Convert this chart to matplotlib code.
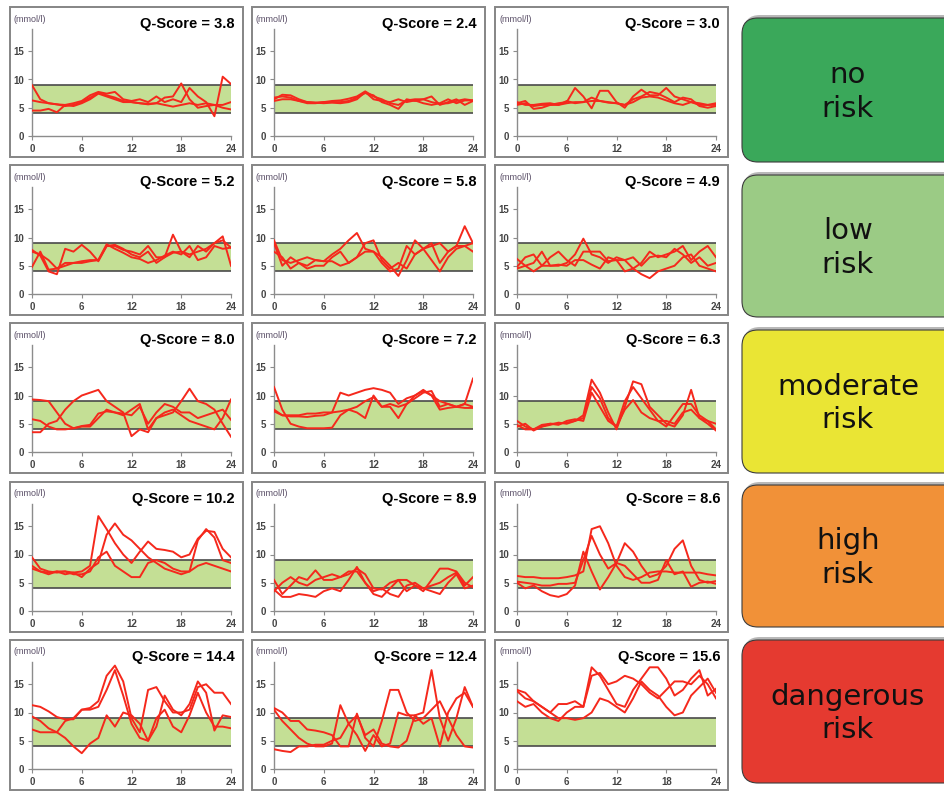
import matplotlib.pyplot as plt
from matplotlib.patches import FancyBboxPatch, Rectangle

W, H = 944, 792

hours = list(range(25))

# glucose traces (mmol/l), hourly 0..24, three days per panel
q38 = [
    [9.0, 6.5, 5.8, 5.6, 5.3, 5.5, 6.0, 6.8, 7.6, 7.2, 6.8, 6.2, 6.0, 5.8, 5.7, 5.8, 6.8, 7.0, 9.3, 6.5, 5.0, 5.3, 5.5, 5.0, 4.7],
    [6.3, 6.0, 5.8, 5.6, 5.5, 5.8, 6.2, 7.2, 7.8, 7.5, 7.8, 6.5, 6.2, 6.5, 6.0, 7.0, 6.0, 6.5, 6.0, 8.5, 7.0, 6.0, 3.5, 10.5, 9.2],
    [4.5, 4.5, 4.8, 4.2, 5.5, 5.3, 5.8, 6.5, 7.5, 7.0, 6.5, 6.0, 6.0, 5.8, 5.6, 5.8, 5.5, 5.2, 5.5, 5.8, 5.5, 5.8, 5.5, 5.5, 6.0],
]
q24 = [
    [6.5, 7.3, 7.2, 6.5, 6.0, 5.9, 6.0, 6.2, 6.3, 6.6, 7.0, 7.9, 7.0, 6.5, 5.8, 5.5, 6.3, 6.5, 6.5, 6.0, 5.7, 5.8, 6.2, 6.5, 6.3],
    [6.8, 7.0, 6.8, 6.2, 5.8, 5.8, 6.0, 6.0, 6.0, 6.2, 6.8, 7.6, 7.2, 6.0, 5.5, 4.8, 6.5, 6.2, 6.5, 7.0, 5.5, 6.0, 6.5, 5.5, 6.2],
    [6.2, 6.5, 6.5, 6.2, 6.0, 5.9, 5.8, 5.9, 5.8, 6.0, 6.5, 7.8, 6.5, 6.2, 6.0, 6.5, 6.0, 6.3, 5.8, 5.5, 5.8, 6.5, 5.8, 6.3, 6.3],
]
q30 = [
    [5.5, 5.8, 5.3, 5.5, 5.5, 5.8, 6.0, 8.5, 7.0, 4.9, 8.0, 8.0, 6.0, 5.0, 7.0, 8.2, 7.2, 7.2, 8.5, 7.0, 6.5, 6.0, 5.5, 5.5, 5.5],
    [5.8, 6.2, 4.8, 5.0, 5.5, 5.5, 6.2, 5.8, 6.0, 6.8, 6.2, 6.0, 5.8, 5.5, 6.5, 7.0, 7.8, 7.5, 6.8, 6.0, 6.8, 6.5, 5.3, 5.0, 5.3],
    [6.0, 5.5, 5.5, 5.7, 5.8, 5.5, 5.8, 6.0, 6.0, 6.2, 6.2, 5.9, 5.8, 5.5, 6.0, 6.8, 7.0, 6.8, 6.3, 5.8, 5.5, 6.0, 5.8, 5.5, 5.8],
]
q52 = [
    [7.8, 6.8, 4.0, 3.5, 8.0, 7.5, 8.7, 7.5, 5.8, 8.5, 8.7, 8.0, 7.0, 6.5, 7.5, 5.5, 6.5, 7.3, 7.5, 7.0, 7.5, 8.0, 9.0, 9.5, 8.2],
    [4.8, 7.5, 4.3, 4.5, 5.0, 5.5, 5.8, 6.0, 6.0, 8.5, 8.5, 7.8, 7.5, 7.0, 8.5, 6.5, 6.5, 10.5, 7.5, 6.5, 8.5, 7.5, 9.0, 10.2, 5.0],
    [7.5, 7.0, 6.0, 4.5, 5.5, 5.5, 5.5, 5.8, 6.0, 8.8, 8.0, 7.3, 6.5, 6.2, 5.5, 6.0, 6.8, 7.5, 7.0, 8.5, 6.0, 6.5, 8.5, 8.0, 8.2],
]
q58 = [
    [9.5, 6.0, 5.5, 6.0, 6.5, 6.0, 5.8, 7.0, 8.0, 9.5, 10.8, 8.0, 7.5, 6.5, 5.0, 3.2, 6.0, 9.5, 8.0, 8.5, 9.0, 7.5, 8.5, 12.0, 9.0],
    [7.5, 6.5, 4.5, 5.5, 4.5, 5.0, 5.0, 6.5, 7.5, 5.5, 6.5, 9.0, 9.5, 6.0, 4.5, 5.5, 4.5, 7.0, 8.0, 9.0, 5.5, 7.5, 8.5, 8.5, 9.0],
    [9.0, 5.0, 6.5, 5.5, 5.0, 6.0, 5.8, 5.8, 5.0, 5.5, 6.5, 7.5, 7.5, 5.5, 4.0, 4.5, 8.5, 7.0, 8.0, 6.0, 4.0, 6.5, 8.0, 8.5, 7.5],
]
q49 = [
    [6.2, 5.0, 5.5, 7.5, 5.0, 5.0, 5.5, 7.0, 9.8, 7.0, 6.5, 5.5, 6.5, 6.0, 4.5, 5.5, 7.5, 6.5, 7.0, 7.5, 8.5, 6.0, 7.5, 8.5, 6.5],
    [4.8, 6.5, 7.0, 5.0, 6.5, 7.5, 6.0, 5.0, 7.5, 7.5, 7.5, 5.8, 6.0, 6.0, 6.5, 5.0, 6.5, 6.8, 6.5, 8.0, 7.0, 5.5, 6.5, 5.0, 5.5],
    [4.5, 5.0, 4.0, 5.0, 5.0, 5.2, 5.0, 6.0, 6.0, 5.2, 4.5, 6.5, 6.0, 4.0, 4.5, 3.5, 2.8, 4.0, 4.5, 5.0, 6.5, 7.0, 5.0, 4.5, 4.0],
]
q80 = [
    [9.3, 9.2, 9.0, 7.0, 5.0, 4.2, 4.6, 4.8, 6.8, 7.2, 7.0, 6.5, 7.5, 8.5, 4.0, 6.0, 7.0, 7.5, 6.5, 5.5, 5.0, 4.5, 4.0, 6.0, 9.3],
    [3.5, 3.5, 5.0, 5.5, 7.5, 9.0, 10.0, 10.5, 11.0, 9.0, 8.0, 7.0, 2.8, 4.0, 3.5, 6.0, 6.5, 7.0, 9.0, 11.2, 9.0, 8.5, 7.5, 5.0, 2.7],
    [5.8, 5.5, 4.5, 4.0, 4.0, 4.2, 4.5, 4.5, 6.0, 7.5, 7.0, 6.8, 6.5, 8.0, 5.0, 7.0, 8.5, 8.0, 7.0, 7.0, 6.0, 6.5, 7.0, 7.5, 5.7],
]
q72 = [
    [11.5, 7.5, 5.0, 4.5, 4.2, 4.2, 4.2, 4.3, 6.5, 7.5, 7.0, 6.0, 10.0, 8.0, 8.0, 6.0, 8.5, 9.5, 10.5, 10.8, 8.0, 8.5, 8.0, 8.5, 8.0],
    [7.2, 6.5, 6.3, 6.3, 6.2, 6.4, 6.5, 7.0, 10.5, 10.0, 10.5, 11.0, 11.3, 11.0, 10.5, 8.5, 9.5, 10.0, 10.8, 10.0, 9.0, 8.5, 8.0, 8.5, 13.0],
    [7.5, 6.5, 6.5, 6.5, 6.8, 6.8, 7.0, 7.0, 7.2, 7.5, 8.0, 9.0, 9.7, 8.0, 8.5, 8.0, 8.5, 10.0, 11.0, 10.0, 7.5, 7.8, 8.0, 7.8, 7.8],
]
q63 = [
    [5.5, 4.5, 4.0, 4.5, 5.0, 5.0, 5.2, 5.5, 6.5, 12.8, 10.5, 7.0, 4.0, 8.0, 12.5, 12.0, 8.0, 6.5, 5.0, 4.5, 6.5, 11.0, 6.0, 5.5, 4.0],
    [4.5, 5.0, 3.8, 4.5, 4.8, 5.2, 5.0, 5.5, 6.0, 11.5, 9.5, 6.0, 4.5, 9.0, 11.5, 9.5, 7.5, 5.5, 4.5, 6.5, 8.5, 8.5, 6.5, 5.5, 5.0],
    [4.8, 4.0, 4.0, 4.8, 5.0, 4.8, 5.5, 5.8, 5.5, 10.5, 8.0, 5.5, 4.5, 7.5, 9.2, 7.0, 6.0, 5.5, 5.5, 5.0, 7.0, 7.5, 6.0, 5.0, 3.8],
]
q102 = [
    [9.5, 7.5, 7.0, 6.8, 7.0, 6.8, 7.0, 8.0, 16.8, 14.5, 12.0, 10.0, 8.5, 10.5, 12.3, 11.0, 10.8, 10.5, 9.5, 10.0, 12.8, 14.2, 14.0, 11.0, 9.5],
    [8.0, 7.0, 6.8, 7.0, 6.5, 6.8, 6.0, 7.5, 8.5, 13.5, 15.5, 13.5, 12.5, 11.0, 9.5, 8.5, 7.5, 7.0, 6.5, 7.0, 12.5, 14.5, 13.0, 9.0, 8.5],
    [7.5, 7.0, 6.5, 7.0, 7.0, 6.5, 6.5, 7.0, 9.5, 10.5, 8.0, 7.0, 6.0, 6.0, 8.5, 9.0, 8.5, 7.5, 7.0, 7.0, 8.0, 8.5, 8.0, 7.5, 7.0],
]
q89 = [
    [5.5, 3.0, 4.5, 6.0, 5.5, 7.2, 5.5, 5.5, 6.0, 6.5, 7.5, 6.5, 4.0, 3.8, 5.0, 5.5, 5.5, 4.5, 3.5, 5.5, 7.5, 7.5, 7.0, 5.0, 4.2],
    [3.8, 2.5, 2.5, 3.0, 2.8, 2.5, 3.5, 4.0, 3.5, 5.5, 7.8, 5.0, 3.0, 2.5, 4.0, 5.5, 3.5, 4.5, 4.0, 4.5, 5.0, 6.0, 6.8, 4.5, 6.0],
    [3.5, 5.0, 6.0, 5.0, 4.5, 5.5, 6.0, 6.5, 6.0, 7.0, 7.0, 5.0, 3.5, 4.0, 3.0, 2.5, 4.5, 5.0, 4.0, 3.5, 3.0, 5.0, 6.5, 4.0, 4.5],
]
q86 = [
    [6.2, 6.0, 6.0, 5.8, 5.8, 5.8, 6.0, 6.3, 7.0, 14.5, 15.0, 12.0, 8.0, 6.0, 5.5, 6.0, 6.8, 7.0, 7.0, 6.8, 6.8, 6.8, 6.8, 6.5, 6.3],
    [5.0, 4.0, 4.5, 3.5, 2.8, 2.5, 3.0, 4.5, 10.5, 7.0, 3.8, 6.0, 8.5, 8.0, 6.5, 5.0, 5.0, 5.5, 9.0, 6.5, 7.0, 4.3, 5.0, 5.2, 4.8],
    [5.2, 5.0, 4.8, 4.5, 4.5, 4.8, 4.8, 5.0, 9.0, 13.3, 10.0, 7.5, 8.5, 12.0, 10.5, 8.0, 6.0, 6.5, 8.0, 11.0, 12.5, 8.0, 5.5, 5.0, 5.3],
]
q144 = [
    [11.3, 11.0, 10.2, 9.2, 8.8, 8.8, 10.5, 10.8, 12.0, 16.5, 18.3, 15.5, 9.0, 6.5, 14.0, 14.5, 12.0, 10.0, 10.0, 10.5, 14.5, 15.0, 13.5, 13.5, 11.5],
    [9.3, 8.5, 7.2, 6.5, 5.5, 4.0, 2.8, 4.5, 5.5, 9.5, 7.5, 10.0, 9.5, 8.0, 5.0, 7.5, 13.0, 10.5, 9.5, 11.5, 15.5, 13.5, 6.8, 9.5, 9.2],
    [7.0, 6.5, 6.5, 6.5, 8.5, 9.0, 10.5, 10.5, 11.0, 14.0, 17.5, 13.0, 8.0, 5.5, 5.0, 9.0, 10.5, 7.5, 6.5, 9.5, 13.5, 10.0, 7.5, 7.5, 7.2],
]
q124 = [
    [10.8, 10.0, 8.5, 8.5, 7.0, 6.8, 6.5, 6.0, 4.0, 4.0, 9.8, 5.5, 4.0, 8.5, 14.0, 14.0, 10.0, 8.5, 9.0, 10.5, 12.0, 9.0, 6.0, 4.0, 3.8],
    [10.5, 8.5, 7.0, 5.5, 4.5, 4.0, 4.0, 4.5, 11.3, 8.0, 6.0, 3.2, 6.0, 4.0, 4.5, 10.0, 9.5, 9.5, 10.0, 17.5, 9.0, 5.0, 9.0, 14.5, 11.0],
    [3.5, 3.2, 3.0, 4.0, 4.0, 4.3, 4.3, 5.0, 5.5, 8.0, 9.5, 6.0, 7.0, 4.5, 4.0, 3.8, 5.0, 9.5, 8.0, 9.0, 4.0, 10.0, 12.5, 13.5, 11.0],
]
q156 = [
    [14.0, 13.5, 12.0, 11.0, 10.0, 9.0, 9.0, 8.7, 9.0, 10.0, 12.5, 12.0, 11.0, 10.0, 12.5, 15.5, 14.0, 13.0, 11.0, 9.5, 10.0, 13.0, 14.5, 16.0, 13.5],
    [13.8, 12.5, 12.0, 11.0, 10.0, 11.5, 11.5, 12.0, 11.0, 18.0, 16.5, 14.0, 11.5, 11.0, 14.0, 16.0, 18.0, 18.0, 16.0, 13.0, 14.0, 16.0, 17.5, 13.0, 14.2],
    [12.0, 11.0, 11.5, 10.0, 9.0, 8.5, 10.0, 11.0, 11.0, 16.5, 17.0, 15.0, 15.5, 16.5, 16.0, 15.0, 13.5, 12.5, 14.0, 15.5, 15.5, 15.0, 16.5, 15.0, 12.5],
]

panels = [[q38, q24, q30],
          [q52, q58, q49],
          [q80, q72, q63],
          [q102, q89, q86],
          [q144, q124, q156]]
q_scores = [["3.8", "2.4", "3.0"],
            ["5.2", "5.8", "4.9"],
            ["8.0", "7.2", "6.3"],
            ["10.2", "8.9", "8.6"],
            ["14.4", "12.4", "15.6"]]
risk_labels = ["no\nrisk", "low\nrisk", "moderate\nrisk", "high\nrisk", "dangerous\nrisk"]
risk_colors = ["#3aa85a", "#9bcb85", "#eae534", "#f19138", "#e53a30"]
target_low, target_high = 4, 9

# layout in pixels
col_x0 = [32, 274, 517]
ax_w = 199
row_zero = [136, 294, 452, 611, 769]
unit = 5.65
ymax = 19
box_top = [18, 175, 330, 485, 640]
box_bot = [162, 317, 473, 627, 783]

fig = plt.figure(figsize=(W / 100, H / 100), dpi=100)
over = fig.add_axes([0, 0, 1, 1])
over.set_xlim(0, W)
over.set_ylim(H, 0)
over.set_axis_off()

for r in range(5):
    z = row_zero[r]
    for c in range(3):
        x0 = col_x0[c]
        over.add_patch(Rectangle((x0 - 22, z - 129), ax_w + 34, 150, fill=False,
                                 ec="#858585", lw=1.4))
        over.text(x0 - 18, z - 117, "(mmol/l)", fontsize=6.5, color="#5b5068",
                  family="Liberation Sans", va="center")
        over.text(x0 + ax_w + 4, z - 112, "Q-Score = " + q_scores[r][c], fontsize=10.5,
                  family="Liberation Sans", weight="bold", ha="right", va="center")

        ax = fig.add_axes([x0 / W, 1 - z / H, ax_w / W, ymax * unit / H])
        ax.patch.set_alpha(0)
        ax.axhspan(target_low, target_high, color="#c4df95", lw=0, zorder=1)
        ax.hlines([target_low, target_high], 0, 24, color="#4a4a4a", lw=1.2, zorder=2)
        for day in panels[r][c]:
            ax.plot(hours, day, color="#f5281c", lw=1.4, zorder=3)
        ax.set_xlim(0, 24)
        ax.set_ylim(0, ymax)
        ax.set_xticks([0, 6, 12, 18, 24])
        ax.set_yticks([0, 5, 10, 15])
        for s in ["top", "right"]:
            ax.spines[s].set_visible(False)
        for s in ["left", "bottom"]:
            ax.spines[s].set_color("#8c8c8c")
            ax.spines[s].set_linewidth(1.0)
        ax.tick_params(length=3, width=0.8, color="#8c8c8c", pad=2.5,
                       labelsize=7, labelcolor="#444444")
        for lab in ax.get_xticklabels() + ax.get_yticklabels():
            lab.set_fontweight("bold")
            lab.set_family("Liberation Sans")

for i in range(5):
    t, b = box_top[i], box_bot[i]
    over.add_patch(FancyBboxPatch((744, t - 3), 220, b - t, boxstyle="round,pad=0,rounding_size=16",
                                  fc="#8a8a8a", ec="none", alpha=0.6))
    over.add_patch(FancyBboxPatch((742, t), 220, b - t, boxstyle="round,pad=0,rounding_size=16",
                                  fc=risk_colors[i], ec="#3c3c3c", lw=0.8))
    over.text(848, (t + b) / 2 + 2, risk_labels[i], fontsize=21, family="DejaVu Sans",
              ha="center", va="center", linespacing=1.25, color="#111111")

fig.savefig("out.png", dpi=100)
